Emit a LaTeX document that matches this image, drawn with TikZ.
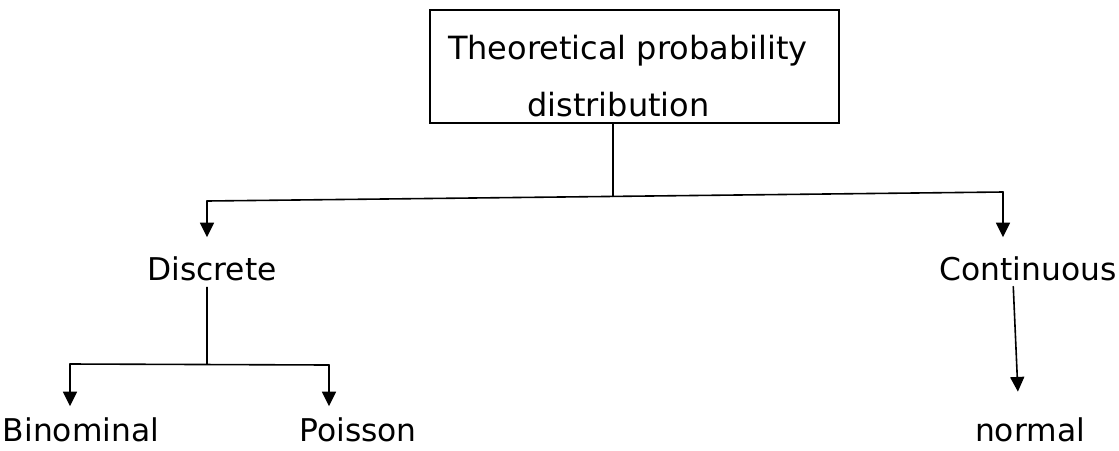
\documentclass[tikz,border=0pt]{standalone}
\usepackage{fontspec}
\setmainfont{DejaVu Sans}
\usetikzlibrary{arrows.meta,calc}
\begin{document}
\begin{tikzpicture}[x=0.75pt,y=-0.75pt,
  conn/.style={line width=1.2pt, line cap=round},
  arr/.style={conn, -{Triangle[width=10.5pt,length=11pt]}},
  lbl/.style={inner sep=0pt, anchor=base, font=\fontsize{23.5}{28}\selectfont},
  titlebox/.style={draw, line width=1.2pt, minimum width=306.75pt, minimum height=84.75pt,
    inner sep=0pt, align=center, font=\fontsize{24}{42.75}\selectfont}]
\useasboundingbox (0,0) rectangle (1119,450);

% nodes
\node[titlebox] (top) at (634.5,66.5) {\rule{0pt}{33pt}Theoretical probability\hspace*{10pt}\\distribution\hspace*{24pt}};
\node[lbl] (disc) at (212,280) {Discrete};
\node[lbl] (cont) at (1028,280) {Continuous};
\node[lbl] (bin) at (81,441) {Binominal};
\node[lbl] (poi) at (358,441) {Poisson};
\node[lbl] (norm) at (1030,441) {normal};

% junction coordinates
\coordinate (hl) at (207,201);
\coordinate (hr) at (1003,192);
\coordinate (j) at (613,196.4);
\coordinate (dj) at (207,364);
\coordinate (bl) at (70,364);
\coordinate (br) at (329,365);
\coordinate (cx1) at (1013,0);
\coordinate (cx2) at (1019,0);

% connectors
\draw[conn] (j |- top.south) -- (j);
\draw[conn] (hl) -- (hr);
\draw[arr, shorten >=14pt] (hl) -- (hl |- disc.north);
\draw[arr, shorten >=14pt] (hr) -- (hr |- cont.north);
\draw[conn, shorten <=5pt] (dj |- disc.south) -- (dj);
\draw[conn] (bl) -- (br);
\draw[arr, shorten >=8pt] (bl) -- (bl |- bin.north);
\draw[arr, shorten >=8pt] (br) -- (br |- poi.north);
\draw[arr, shorten <=4.5pt, shorten >=19pt] (cont.south -| cx1) -- (norm.north -| cx2);
\end{tikzpicture}
\end{document}
